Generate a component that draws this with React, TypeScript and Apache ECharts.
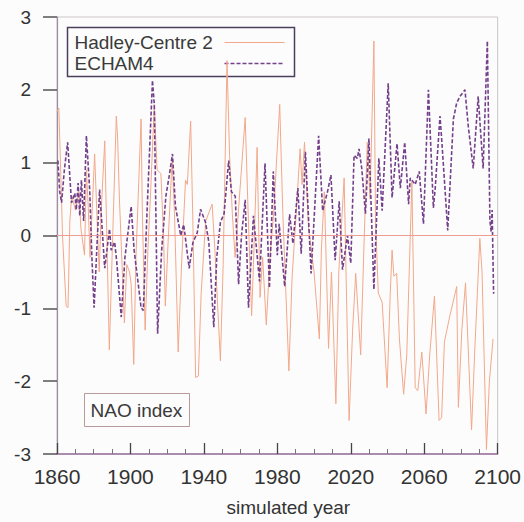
import React, { useEffect, useRef } from "react";
import * as echarts from "echarts";

// Hadley-Centre 2 NAO index (year, value)
const hadleyYears = [
  1860, 1861, 1862, 1863, 1865, 1866, 1867, 1868, 1870, 1872, 1873, 1875, 1876, 1877, 1878, 1880.5, 1882, 1883, 1884, 1886,
  1888.5, 1890, 1892.3, 1893, 1894, 1896.7, 1898, 1899.5, 1900.4, 1901.8, 1903, 1905.8, 1906.5, 1908, 1909.5, 1911, 1913, 1914.5, 1916.6, 1918,
  1919, 1920.5, 1922.7, 1924, 1926, 1928, 1930, 1931, 1932.8, 1934, 1935.5, 1937, 1938.5, 1941, 1944.5, 1946, 1949, 1950.5, 1952.6, 1954,
  1955.5, 1957, 1959, 1962.5, 1964, 1966, 1967, 1969, 1970.6, 1972, 1974, 1976, 1978, 1981.3, 1983, 1986.3, 1988, 1990, 1992.4, 1993.5,
  1994.8, 1997, 2000, 2002.9, 2004, 2005.6, 2007.9, 2009.5, 2011.9, 2013.5, 2016.4, 2017.5, 2019.1, 2021, 2022.7, 2025.4, 2027, 2029, 2030.5, 2032.6,
  2033.5, 2035, 2037.1, 2039.8, 2041.5, 2042.5, 2043.5, 2045, 2046.5, 2048.8, 2050.5, 2053.3, 2055.1, 2056.5, 2058.7, 2061, 2063, 2065.6, 2068.1, 2069.5,
  2071, 2074, 2077.7, 2078.6, 2080.5, 2082.5, 2085.8, 2087.5, 2090.3, 2091.5, 2093.9, 2095.5, 2097.5,
];
const hadleyValues = [
  1.7, 1.75, 0.9, 0.0, -0.97, -0.99, 0.2, 0.55, 0.35, 0.6, 0.1, -0.27, 0.9, 0.4, -0.3, 1.12, 0.1, -0.5, 0.3, 1.3,
  -1.57, -0.3, 1.64, 1.35, 0.5, -1.2, -0.4, -0.5, -0.67, -1.77, -0.3, 1.6, 0.3, -1.3, -0.2, 0.6, 1.8, 0.9, 0.85, 0.0,
  -0.97, -0.1, 1.05, 0.3, -1.6, -0.3, 0.76, 0.7, 1.57, 0.2, -1.95, -1.93, -0.8, 0.2, 0.43, -0.2, -1.72, -0.4, 2.4, 1.1,
  0.3, -0.3, 0.4, 1.62, 0.4, -1.1, -0.4, 1.21, -0.85, -0.3, -1.23, -0.3, 0.3, 1.8, 0.3, -1.86, -0.6, 0.2, 1.19, 0.7,
  1.28, 0.1, -0.5, -1.42, -0.2, 0.6, -1.55, -0.5, -2.31, -0.5, 0.79, -0.6, -2.54, -1.3, -0.52, -1.64, -0.3, 1.28, 0.5, 2.67,
  0.2, -0.79, -0.92, -2.09, -0.8, -0.2, -0.56, -0.52, -1.42, -2.18, -1.64, 0.74, -2.09, -2.13, -1.6, -2.45, -1.64, -0.83, -2.54, -2.5,
  -1.46, -1.1, -0.7, -2.36, -1.3, -0.65, -2.67, -1.6, -0.04, -0.5, -2.94, -2.0, -1.42,
];

// ECHAM4 NAO index (year, value)
const echamYears = [
  1860.5, 1861.5, 1862.5, 1864, 1865.8, 1867.9, 1869.7, 1870.5, 1871.5, 1872.4, 1873.3, 1874.5, 1876, 1877.8, 1879, 1880.2, 1883.2, 1886, 1888.6, 1889.5,
  1891.4, 1892.5, 1895, 1897, 1900.4, 1902, 1905.8, 1907, 1909, 1912, 1913, 1914.8, 1917, 1919.3, 1921, 1922.9, 1924.5, 1927.4, 1929, 1932,
  1934, 1936.4, 1938.2, 1940.9, 1942.7, 1945.4, 1947, 1949, 1951, 1953.5, 1955, 1957.1, 1958.9, 1960.5, 1962.5, 1964.3, 1967, 1970.3, 1973.3, 1975.7,
  1977.8, 1980, 1981, 1984, 1986.7, 1988.5, 1991.2, 1993, 1995.3, 1998.4, 2002.5, 2004.7, 2007.4, 2009.2, 2011.5, 2013.7, 2015.5, 2018.2, 2020, 2021.8,
  2023.6, 2024.5, 2026, 2028, 2029.9, 2032.6, 2035.3, 2037.1, 2040.4, 2042.5, 2045.2, 2047, 2049.4, 2051.5, 2052.4, 2055.1, 2057.3, 2059.6, 2062.3, 2065,
  2066, 2068.6, 2069.5, 2071.4, 2072.8, 2075.9, 2077.7, 2079.5, 2082.2, 2084, 2086.7, 2089.4, 2092.1, 2094.4, 2095.8, 2096.5, 2097, 2097.8,
];
const echamValues = [
  1.03, 0.6, 0.45, 0.9, 1.28, 0.45, 0.58, 0.35, 0.72, 0.27, 0.76, 0.2, 1.37, 0.63, -0.3, -0.99, 0.63, -0.45, 0.09, -0.2,
  -0.09, -0.35, -1.12, -0.3, 0.4, -0.2, -0.99, -1.03, 0.3, 2.13, 1.8, -1.35, -0.2, 0.54, 0.8, 1.12, 0.4, 0.0, 0.15, -0.45,
  -0.1, 0.04, 0.36, 0.18, -0.09, -1.26, -0.3, 0.18, 0.3, 1.03, 0.6, 0.54, -0.67, 0.0, 0.49, -0.99, 0.27, -0.63, 0.99, -0.72,
  0.88, -0.27, 0.16, -0.7, 0.29, -0.11, 0.65, -0.25, 1.15, -0.52, 1.37, 0.34, 0.61, 0.83, -0.34, 0.47, -0.47, 0.0, -0.38, 1.1,
  1.06, 1.19, 0.92, 0.3, 1.33, -0.74, 1.06, 0.34, 2.09, 0.52, 1.26, 0.65, 1.28, 0.43, 0.79, 0.7, 0.88, 0.16, 2.0, 0.38,
  0.65, 1.64, 1.33, 0.61, 0.07, 1.6, 1.82, 1.91, 2.0, 1.5, 0.92, 1.91, 0.92, 2.67, 0.2, 0.05, 0.35, -0.8,
];

const seriesNames = ["Hadley-Centre 2", "ECHAM4"];
const boxLabel = "NAO index";
const xAxisName = "simulated year";

const FONT = "Liberation Sans, Arial, Helvetica, sans-serif";
const HADLEY_COLOR = "#f2a88a";
const ECHAM_COLOR = "#74408c";

export default function App() {
  const ref = useRef<HTMLDivElement>(null);

  useEffect(() => {
    document.body.style.margin = "0";
    if (!ref.current) return;
    const chart = echarts.init(ref.current, undefined, { renderer: "svg" });
    const hadleyData = hadleyYears.map((y, i) => [y, hadleyValues[i]]);
    const echamData = echamYears.map((y, i) => [y, echamValues[i]]);

    chart.setOption({
      animation: false,
      backgroundColor: "#fcfcfc",
      textStyle: { fontFamily: FONT },
      grid: {
        left: 57,
        right: 24,
        top: 17,
        bottom: 60,
        show: true,
        borderColor: "#cdc6cd",
        borderWidth: 1,
      },
      xAxis: {
        type: "value",
        min: 1860,
        max: 2100,
        interval: 40,
        name: xAxisName,
        nameLocation: "middle",
        nameGap: 44,
        nameTextStyle: { fontSize: 19, color: "#333", fontFamily: FONT, padding: [0, 0, 0, 22] },
        axisLine: { show: true, onZero: false, lineStyle: { color: "#9a6f9c", width: 1.5 } },
        axisTick: { show: true, inside: true, length: 11, lineStyle: { color: "#444", width: 1.3 } },
        minorTick: { show: true, splitNumber: 4, length: 5, lineStyle: { color: "#777", width: 1 } },
        axisLabel: {
          fontSize: 21,
          color: "#333",
          margin: 12,
          fontFamily: FONT,
          formatter: (v: number) => String(v),
        },
        splitLine: { show: false },
      },
      yAxis: {
        type: "value",
        min: -3,
        max: 3,
        interval: 1,
        axisLine: { show: true, lineStyle: { color: "#9c8ca4", width: 1.2 } },
        axisTick: { show: true, inside: false, length: 14, lineStyle: { color: "#555", width: 1.5 } },
        axisLabel: { fontSize: 19, color: "#333", margin: 26, fontFamily: FONT },
        splitLine: { show: false },
      },
      series: [
        {
          name: seriesNames[0],
          type: "line",
          data: hadleyData,
          symbol: "none",
          z: 2,
          itemStyle: { color: HADLEY_COLOR },
          lineStyle: { color: HADLEY_COLOR, width: 1 },
          markLine: {
            silent: true,
            symbol: "none",
            label: { show: false },
            lineStyle: { color: "#ef9c94", width: 1, type: "solid", opacity: 1 },
            data: [{ yAxis: 0 }],
          },
        },
        {
          name: seriesNames[1],
          type: "line",
          data: echamData,
          symbol: "none",
          z: 3,
          itemStyle: { color: ECHAM_COLOR },
          lineStyle: { color: ECHAM_COLOR, width: 1.6, type: [4, 2] },
        },
      ],
      graphic: [
        {
          type: "group",
          left: 65,
          top: 25,
          z: 10,
          children: [
            {
              type: "rect",
              shape: { x: 0, y: 0, width: 227, height: 49 },
              style: { fill: "none", stroke: "#4a3f5c", lineWidth: 1.5 },
            },
            {
              type: "text",
              x: 7,
              y: 15,
              style: {
                text: seriesNames[0],
                fontSize: 19,
                fill: "#3a3a3a",
                fontFamily: FONT,
                verticalAlign: "middle",
              },
            },
            {
              type: "text",
              x: 7,
              y: 36,
              style: {
                text: seriesNames[1],
                fontSize: 19,
                fill: "#3a3a3a",
                fontFamily: FONT,
                verticalAlign: "middle",
              },
            },
            {
              type: "line",
              shape: { x1: 157, y1: 15, x2: 217, y2: 15 },
              style: { stroke: HADLEY_COLOR, lineWidth: 1 },
            },
            {
              type: "line",
              shape: { x1: 157, y1: 36, x2: 217, y2: 36 },
              style: { stroke: ECHAM_COLOR, lineWidth: 1.6, lineDash: [4, 2] },
            },
          ],
        },
        {
          type: "group",
          left: 82,
          top: 391,
          children: [
            {
              type: "rect",
              shape: { x: 0, y: 0, width: 105, height: 33 },
              style: { fill: "none", stroke: "#b89a9a", lineWidth: 1 },
            },
            {
              type: "text",
              x: 6,
              y: 7,
              style: { text: boxLabel, fontSize: 19, fill: "#3a3a3a", fontFamily: FONT },
            },
          ],
        },
      ],
    });

    return () => chart.dispose();
  }, []);

  return <div ref={ref} style={{ width: 524, height: 522 }} />;
}
